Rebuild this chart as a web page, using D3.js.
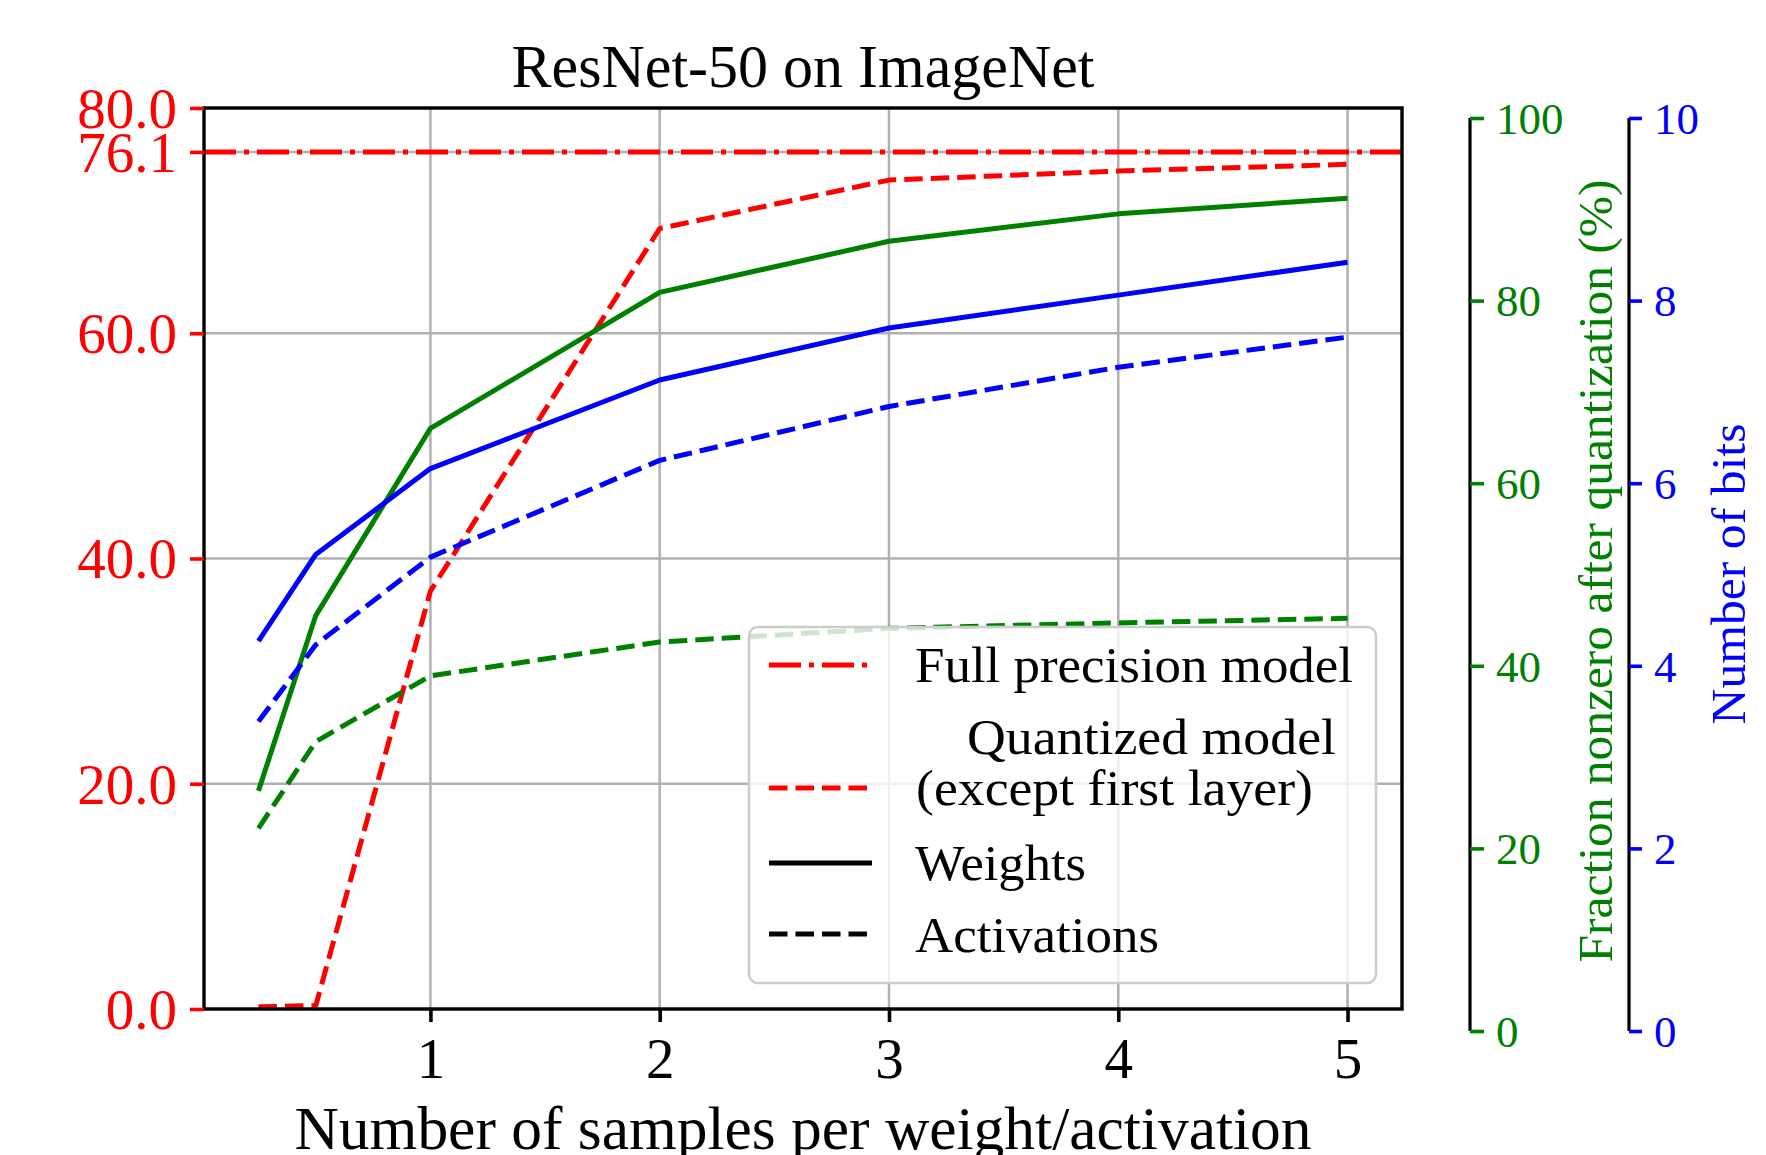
<!DOCTYPE html>
<html lang="en">
<head>
    <meta charset="UTF-8">
    <script src="https://d3js.org/d3.v7.min.js"></script>
    <style>
        body {
            margin: 0;
            background-color: #ffffff;
            overflow: hidden;
        }
        svg text {
            font-family: "Liberation Serif", "DejaVu Serif", serif;
        }
    </style>
</head>
<body>
    <svg id="chart" width="1766" height="1155"></svg>

    <script>
        // samples per weight/activation
        const xs = [0.25, 0.5, 1, 2, 3, 4, 5];
        const xTicks = [1, 2, 3, 4, 5];

        // top-1 accuracy (left axis)
        const fullPrecision = 76.1;
        const accQuantized = [0.2, 0.3, 37.1, 69.3, 73.6, 74.4, 75.0];
        const leftTicks = [0, 20, 40, 60, 80, 76.1];

        // fraction nonzero after quantization, % (green axis)
        const nonzeroWeights = [26.3, 45.5, 66.0, 80.9, 86.5, 89.5, 91.2];
        const nonzeroActs = [22.2, 31.7, 38.9, 42.6, 44.1, 44.7, 45.2];
        const greenTicks = [0, 20, 40, 60, 80, 100];

        // number of bits (blue axis)
        const bitsWeights = [4.27, 5.22, 6.16, 7.13, 7.70, 8.06, 8.42];
        const bitsActs = [3.39, 4.23, 5.19, 6.25, 6.84, 7.27, 7.60];
        const blueTicks = [0, 2, 4, 6, 8, 10];

        const svg = d3.select("#chart");

        const plot = { left: 204, right: 1402, top: 108, bottom: 1009 };
        const twin = { top: 118, bottom: 1031, greenX: 1470, blueX: 1629 };

        const x = d3.scaleLinear().domain([0.0125, 5.2375]).range([plot.left, plot.right]);
        const yLeft = d3.scaleLinear().domain([0, 80]).range([plot.bottom, plot.top]);
        const yGreen = d3.scaleLinear().domain([0, 100]).range([twin.bottom, twin.top]);
        const yBlue = d3.scaleLinear().domain([0, 10]).range([twin.bottom, twin.top]);

        const DASHED = "18.5,8";
        const DASHDOT = "32,8,5,8";
        const LW = 5;

        // grid
        const grid = svg.append("g");
        grid.selectAll(".gx").data(xTicks).enter().append("line")
            .attr("x1", d => x(d)).attr("x2", d => x(d))
            .attr("y1", plot.top).attr("y2", plot.bottom)
            .attr("stroke", "#b0b0b0").attr("stroke-width", 2.5);
        grid.selectAll(".gy").data(leftTicks).enter().append("line")
            .attr("x1", plot.left).attr("x2", plot.right)
            .attr("y1", d => yLeft(d)).attr("y2", d => yLeft(d))
            .attr("stroke", "#b0b0b0").attr("stroke-width", 2.5);

        // lines
        const lineOf = (scale) => d3.line().x((d, i) => x(xs[i])).y(d => scale(d));

        function drawLine(values, scale, color, dash) {
            svg.append("path")
                .datum(values)
                .attr("d", lineOf(scale))
                .attr("fill", "none")
                .attr("stroke", color)
                .attr("stroke-width", LW)
                .attr("stroke-linejoin", "round")
                .attr("stroke-dasharray", dash);
        }

        svg.append("line")
            .attr("x1", plot.left).attr("x2", plot.right)
            .attr("y1", yLeft(fullPrecision)).attr("y2", yLeft(fullPrecision))
            .attr("stroke", "#ff0000").attr("stroke-width", LW)
            .attr("stroke-dasharray", DASHDOT);
        drawLine(accQuantized, yLeft, "#ff0000", DASHED);
        drawLine(nonzeroWeights, yGreen, "#008000", null);
        drawLine(nonzeroActs, yGreen, "#008000", DASHED);
        drawLine(bitsWeights, yBlue, "#0000ff", null);
        drawLine(bitsActs, yBlue, "#0000ff", DASHED);

        // frame
        svg.append("rect")
            .attr("x", plot.left).attr("y", plot.top)
            .attr("width", plot.right - plot.left).attr("height", plot.bottom - plot.top)
            .attr("fill", "none").attr("stroke", "#000").attr("stroke-width", 3.4);

        function styleAxis(g, color, size) {
            g.select(".domain").remove();
            g.selectAll(".tick line").attr("stroke", color).attr("stroke-width", 3.6);
            g.selectAll(".tick text").attr("fill", color).style("font-size", size + "px");
        }

        // left axis
        svg.append("g")
            .attr("transform", `translate(${plot.left},0)`)
            .call(d3.axisLeft(yLeft).tickValues(leftTicks).tickFormat(d3.format(".1f"))
                .tickSize(14).tickPadding(13))
            .call(g => styleAxis(g, "#ff0000", 57))
            .call(g => g.selectAll(".tick text").attr("dy", "0.34em"));

        // bottom axis
        svg.append("g")
            .attr("transform", `translate(0,${plot.bottom})`)
            .call(d3.axisBottom(x).tickValues(xTicks).tickFormat(d3.format("d"))
                .tickSize(13).tickPadding(17))
            .call(g => styleAxis(g, "#000000", 57))
            .call(g => g.selectAll(".tick text").attr("dy", "0.68em"));

        // green axis
        svg.append("line")
            .attr("x1", twin.greenX).attr("x2", twin.greenX)
            .attr("y1", twin.top).attr("y2", twin.bottom)
            .attr("stroke", "#000").attr("stroke-width", 3.2);
        svg.append("g")
            .attr("transform", `translate(${twin.greenX},0)`)
            .call(d3.axisRight(yGreen).tickValues(greenTicks).tickSize(14).tickPadding(12))
            .call(g => styleAxis(g, "#008000", 45))
            .call(g => g.selectAll(".tick text").attr("dy", "0.34em"));

        // blue axis
        svg.append("line")
            .attr("x1", twin.blueX).attr("x2", twin.blueX)
            .attr("y1", twin.top).attr("y2", twin.bottom)
            .attr("stroke", "#000").attr("stroke-width", 3.2);
        svg.append("g")
            .attr("transform", `translate(${twin.blueX},0)`)
            .call(d3.axisRight(yBlue).tickValues(blueTicks).tickSize(13).tickPadding(12))
            .call(g => styleAxis(g, "#0000ff", 45))
            .call(g => g.selectAll(".tick text").attr("dy", "0.34em"));

        // titles
        svg.append("text")
            .attr("x", 803).attr("y", 87)
            .attr("text-anchor", "middle")
            .attr("textLength", 583).attr("lengthAdjust", "spacingAndGlyphs")
            .style("font-size", "61px")
            .text("ResNet-50 on ImageNet");

        svg.append("text")
            .attr("x", 803).attr("y", 1149)
            .attr("text-anchor", "middle")
            .attr("textLength", 1017).attr("lengthAdjust", "spacingAndGlyphs")
            .style("font-size", "62px")
            .text("Number of samples per weight/activation");

        svg.append("text")
            .attr("transform", "translate(1612,571) rotate(-90)")
            .attr("text-anchor", "middle")
            .attr("fill", "#008000")
            .attr("textLength", 783).attr("lengthAdjust", "spacingAndGlyphs")
            .style("font-size", "49px")
            .text("Fraction nonzero after quantization (%)");

        svg.append("text")
            .attr("transform", "translate(1745,574) rotate(-90)")
            .attr("text-anchor", "middle")
            .attr("fill", "#0000ff")
            .attr("textLength", 301).attr("lengthAdjust", "spacingAndGlyphs")
            .style("font-size", "49px")
            .text("Number of bits");

        // legend
        const legend = svg.append("g");
        legend.append("rect")
            .attr("x", 749).attr("y", 627)
            .attr("width", 627).attr("height", 356)
            .attr("rx", 9)
            .attr("fill", "#ffffff").attr("fill-opacity", 0.8)
            .attr("stroke", "#cccccc").attr("stroke-width", 2.5);

        const legendItems = [
            { y: 665, color: "#ff0000", dash: DASHDOT, lines: [{ t: "Full precision model", x: 915, y: 682, w: 438 }] },
            { y: 788, color: "#ff0000", dash: DASHED, lines: [
                { t: "Quantized model", x: 967, y: 754, w: 369 },
                { t: "(except first layer)", x: 916, y: 805, w: 397 }] },
            { y: 863, color: "#000000", dash: null, lines: [{ t: "Weights", x: 915, y: 880, w: 171 }] },
            { y: 934, color: "#000000", dash: DASHED, lines: [{ t: "Activations", x: 915, y: 952, w: 244 }] }
        ];

        legendItems.forEach(item => {
            legend.append("line")
                .attr("x1", 769).attr("x2", 872)
                .attr("y1", item.y).attr("y2", item.y)
                .attr("stroke", item.color).attr("stroke-width", LW)
                .attr("stroke-dasharray", item.dash);
            item.lines.forEach(l => {
                legend.append("text")
                    .attr("x", l.x).attr("y", l.y)
                    .attr("textLength", l.w).attr("lengthAdjust", "spacingAndGlyphs")
                    .style("font-size", "50px")
                    .text(l.t);
            });
        });
    </script>
</body>
</html>
